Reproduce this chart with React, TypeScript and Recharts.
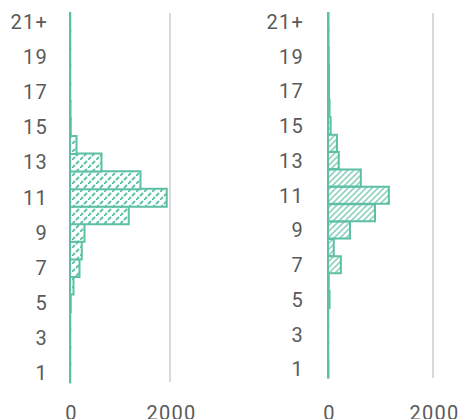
import React from 'react';
import { BarChart, Bar, XAxis, YAxis, CartesianGrid } from 'recharts';

const categories = ['1','2','3','4','5','6','7','8','9','10','11','12','13','14','15','16','17','18','19','20','21+'];
const leftValues = [5,5,5,5,15,70,190,235,290,1175,1935,1410,630,130,15,10,5,5,5,5,5];
const rightValues = [10,5,5,5,30,15,245,110,420,895,1160,625,205,170,50,30,20,20,15,10,10];
const yTicks = ['1','3','5','7','9','11','13','15','17','19','21+'];
const xTicks = [0, 2000];

const leftData = categories.map((c, i) => ({ cat: c, v: leftValues[i] }));
const rightData = categories.map((c, i) => ({ cat: c, v: rightValues[i] }));

const TEAL = '#5dbfa3';
const tickStyle = { fill: '#5a5a5a', fontSize: 20, fontFamily: 'Roboto, sans-serif', letterSpacing: 1.2 };
const xTickStyle = { ...tickStyle, dx: 1.5 };

type PanelProps = {
  data: { cat: string; v: number }[];
  width: number;
  yWidth: number;
  right: number;
  bottom: number;
  xMargin: number;
  yMargin: number;
  fillId: string;
  defs: React.ReactNode;
};

function Panel({ data, width, yWidth, right, bottom, xMargin, yMargin, fillId, defs }: PanelProps) {
  return (
    <BarChart
      width={width}
      height={419}
      data={data}
      layout="vertical"
      margin={{ top: 13, right, bottom, left: 0 }}
      barCategoryGap={0}
    >
      <defs>{defs}</defs>
      <CartesianGrid horizontal={false} vertical stroke="#d9d9d9" strokeWidth={2} />
      <XAxis
        type="number"
        domain={[0, 2000]}
        ticks={xTicks}
        axisLine={false}
        tickLine={false}
        tick={xTickStyle}
        tickMargin={xMargin}
        height={30}
        interval={0}
      />
      <YAxis
        type="category"
        dataKey="cat"
        reversed
        ticks={yTicks}
        interval={0}
        axisLine={false}
        tickLine={false}
        tick={tickStyle}
        tickMargin={yMargin}
        width={yWidth}
      />
      <Bar dataKey="v" fill={`url(#${fillId})`} stroke={TEAL} strokeWidth={2} isAnimationActive={false} />
    </BarChart>
  );
}

export default function App() {
  const leftDefs = (
    <pattern id="hatchL" width="8" height="8" patternUnits="userSpaceOnUse">
      <rect width="8" height="8" fill="#ffffff" />
      <path d="M0,8 L3,5 M4,4 L7,1" stroke={TEAL} strokeWidth={1.8} />
    </pattern>
  );
  const rightDefs = (
    <pattern id="hatchR" width="6" height="6" patternUnits="userSpaceOnUse">
      <rect width="6" height="6" fill="#ffffff" />
      <path d="M0,6 L6,0 M-1,1 L1,-1 M5,7 L7,5" stroke="#8fd3bf" strokeWidth={1.6} />
    </pattern>
  );
  return (
    <div style={{ position: 'absolute', left: 0, top: 0, width: 460, height: 419, background: '#fff' }}>
      <div style={{ position: 'absolute', left: 0, top: 0 }}>
        <Panel data={leftData} width={230} yWidth={70} right={60} bottom={7} xMargin={18} yMargin={16} fillId="hatchL" defs={leftDefs} />
      </div>
      <div style={{ position: 'absolute', left: 230, top: 0 }}>
        <Panel data={rightData} width={230} yWidth={98} right={27} bottom={11} xMargin={22} yMargin={18} fillId="hatchR" defs={rightDefs} />
      </div>
    </div>
  );
}
